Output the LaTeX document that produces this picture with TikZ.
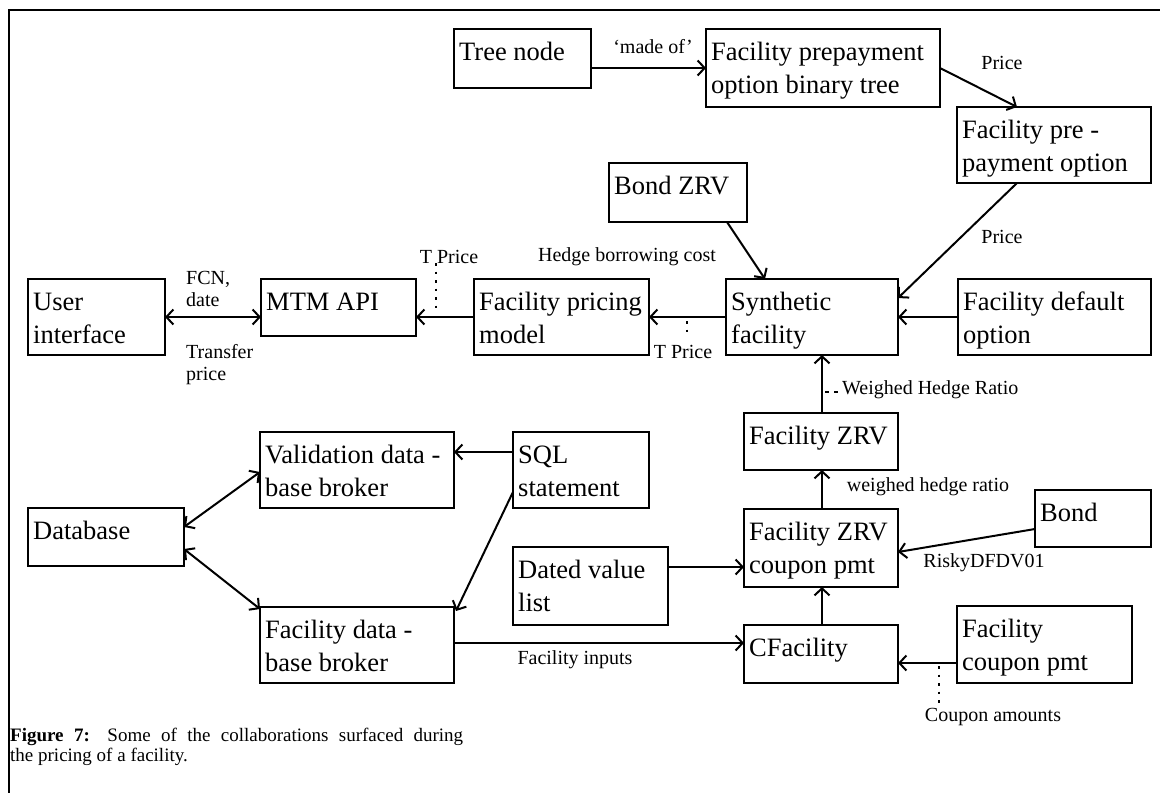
\documentclass[tikz,border=0pt]{standalone}
\usepackage{fontspec}
\setmainfont{Liberation Serif}
\usetikzlibrary{arrows.meta}

\tikzset{
  box/.style={draw, line width=2pt, inner sep=0pt, outer sep=0pt},
  boxtext/.style={inner sep=0pt, align=left, font=\fontsize{26.5}{33}\selectfont},
  lbl/.style={inner sep=0pt, font=\fontsize{20}{22}\selectfont},
  lbl2/.style={inner sep=0pt, align=left, font=\fontsize{20}{22}\selectfont},
  arr/.style={line width=2pt, -{Straight Barb[length=7pt,width=15pt]}},
  darr/.style={line width=2pt, {Straight Barb[length=7pt,width=15pt]}-{Straight Barb[length=7pt,width=15pt]}},
  dotline/.style={line width=2.5pt, dash pattern=on 2.5pt off 6pt},
  dashline/.style={line width=1.8pt, dash pattern=on 4pt off 5pt},
  frame/.style={line width=2.5pt},
}

% box: name, left, top, right, bottom, text (top-left aligned)
\newcommand\classbox[6]{%
  \node[box, minimum width={#4-#2}, minimum height={#5-#3}, anchor=north west] (#1) at (#2,#3) {};
  \node[boxtext, anchor=north west] (#1-t) at (#2+5,#3+11) {\rule{0pt}{20pt}#6};
}

\begin{document}
\begin{tikzpicture}[x=1pt,y=-1pt]
\useasboundingbox (0,0) rectangle (1160,793);

% page frame (top and left edges)
\draw[frame] (1160,10) -- (9,10) -- (9,793);

% classes
\classbox{tree}{454}{29}{591}{88}{Tree node}
\classbox{bintree}{706}{29}{940}{107}{Facility prepayment\\option binary tree}
\classbox{prepay}{957}{107}{1151}{183}{Facility pre -\\payment option}
\classbox{bondzrv}{609}{163}{747}{222}{Bond ZRV}
\classbox{synth}{726}{279}{898}{355}{Synthetic\\facility}
\classbox{default}{958}{279}{1151}{355}{Facility default\\option}
\classbox{pricing}{474}{279}{649}{355}{Facility pricing\\model}
\classbox{mtm}{261}{279}{416}{336}{MTM API}
\classbox{ui}{28}{279}{165}{355}{User\\interface}
\classbox{valid}{260}{432}{454}{508}{Validation data -\\base broker}
\classbox{sql}{513}{432}{649}{508}{SQL\\statement}
\classbox{db}{28}{508}{184}{566}{Database}
\classbox{fdb}{260}{607}{454}{683}{Facility data -\\base broker}
\classbox{dated}{513}{547}{668}{625}{Dated value\\list}
\classbox{fzrv}{744}{413}{898}{470}{Facility ZRV}
\classbox{coupon}{744}{509}{898}{587}{Facility ZRV\\coupon pmt}
\classbox{bond}{1035}{490}{1151}{547}{Bond}
\classbox{cfac}{744}{625}{898}{683}{CFacility}
\classbox{fcoupon}{957}{606}{1132}{683}{Facility\\coupon pmt}

% collaborations
\draw[arr] (tree.east |- 0,68) -- (bintree.west |- 0,68);
\draw[arr] (bintree.east |- 0,68) -- ([xshift=60pt]prepay.north west);
\draw[arr] ([xshift=60pt]prepay.south west) -- (synth.east |- 0,298);
\draw[arr] ([xshift=-20pt]bondzrv.south east) -- ([xshift=39pt]synth.north west);
\draw[arr] (default.west |- 0,317) -- (synth.east |- 0,317);
\draw[arr] (synth.west |- 0,317) -- (pricing.east |- 0,317);
\draw[arr] (pricing.west |- 0,317) -- (mtm.east |- 0,317);
\draw[darr] (ui.east |- 0,317) -- (mtm.west |- 0,317);
\draw[arr] (sql.west |- 0,452) -- (valid.east |- 0,452);
\draw[arr] (sql.west |- 0,492) -- ([xshift=2pt,yshift=-4pt]fdb.north east);
\draw[darr] (db.east |- 0,527) -- (valid.west |- 0,472);
\draw[darr] (db.east |- 0,549) -- ([yshift=-2pt]fdb.north west);
\draw[arr] (fdb.east |- 0,643) -- (cfac.west |- 0,643);
\draw[arr] (dated.east |- 0,567) -- (coupon.west |- 0,567);
\draw[arr] (bond.west |- 0,529) -- (coupon.east |- 0,552);
\draw[arr] (fcoupon.west |- 0,663) -- (cfac.east |- 0,663);
\draw[arr] (cfac.north -| 822,0) -- (coupon.south -| 822,0);
\draw[arr] (coupon.north -| 822,0) -- (fzrv.south -| 822,0);
\draw[arr] (fzrv.north -| 822,0) -- (synth.south -| 822,0);

% connector labels
\node[lbl] (madeof) at (653,47) {‘made of’};
\node[lbl] (price1) at (1002,63) {Price};
\node[lbl] (price2) at (1002,237) {Price};
\node[lbl] (hedge) at (627,257) {Hedge borrowing cost};
\node[lbl] (tprice1) at (449,257) {T Price};
\node[lbl] (tprice2) at (683,352) {T Price};
\node[lbl2, anchor=north west] (fcn) at (186,270) {\rule{0pt}{14pt}FCN,\\date};
\node[lbl2, anchor=north west] (transfer) at (186,344) {\rule{0pt}{14pt}Transfer\\price};
\node[lbl, anchor=west] (whr) at (842,390) {Weighed Hedge Ratio};
\node[lbl] (whr2) at (928,487) {weighed hedge ratio};
\node[lbl] (risky) at (984,563) {RiskyDFDV01};
\node[lbl] (inputs) at (575,660) {Facility inputs};
\node[lbl] (amounts) at (993,717) {Coupon amounts};

% label leaders
\coordinate (tp1) at (436,310);
\coordinate (tp2) at (687,334);
\coordinate (ca) at (939,703);
\draw[dotline] (436,263) -- (tp1);
\draw[dotline] (687,321) -- (tp2);
\draw[dotline] (939,666) -- (ca);
\draw[dashline] (825,392) -- ([yshift=-2pt]whr.west);

% caption, set as a justified paragraph
\node[inner sep=0pt, text width=453pt, align=justify, anchor=north west, font=\fontsize{19}{20.5}\selectfont] (caption) at (10,727)
  {\rule{0pt}{14pt}\textbf{Figure 7:} Some of the collaborations surfaced during\linebreak the pricing of a facility.};
\end{tikzpicture}
\end{document}
